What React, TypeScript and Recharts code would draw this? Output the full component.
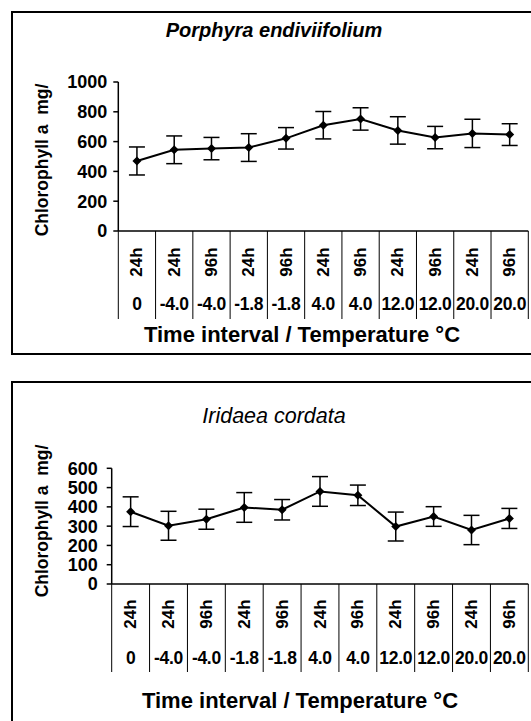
import { LineChart, Line, XAxis, YAxis, ErrorBar } from "recharts";

const timeLabels = ["24h", "24h", "96h", "24h", "96h", "24h", "96h", "24h", "96h", "24h", "96h"];
const tempLabels = ["0", "-4.0", "-4.0", "-1.8", "-1.8", "4.0", "4.0", "12.0", "12.0", "20.0", "20.0"];

const porphyraMean = [470, 545, 553, 560, 622, 710, 752, 675, 627, 655, 647];
const porphyraErr = [94, 93, 75, 93, 72, 92, 75, 92, 75, 95, 73];
const porphyraTicks = [0, 200, 400, 600, 800, 1000];

const iridaeaMean = [375, 302, 336, 397, 385, 480, 460, 298, 350, 280, 340];
const iridaeaErr = [77, 75, 52, 77, 53, 77, 53, 75, 51, 76, 52];
const iridaeaTicks = [0, 100, 200, 300, 400, 500, 600];

const FONT = '"Liberation Sans", Arial, sans-serif';

const build = (mean: number[], err: number[]) =>
  mean.map((v, i) => ({ key: `${timeLabels[i]} ${tempLabels[i]} ${i}`, value: v, err: err[i] }));

const Diamond = (props: any) => {
  const { cx, cy } = props;
  if (cx == null || cy == null) return null;
  const r = 4.5;
  return <polygon points={`${cx},${cy - r} ${cx + r},${cy} ${cx},${cy + r} ${cx - r},${cy}`} fill="#000" />;
};

function CatTick(props: any) {
  const { x, y, index, bw, timeDy, tempDy, sepLen } = props;
  const h = bw / 2;
  return (
    <g>
      {index === 0 && <line x1={x - h} x2={x - h} y1={y} y2={y + sepLen} stroke="#000" strokeWidth={1} />}
      <line x1={x + h} x2={x + h} y1={y} y2={y + sepLen} stroke="#000" strokeWidth={1} />
      <text
        x={x}
        y={y + timeDy}
        transform={`rotate(-90 ${x} ${y + timeDy})`}
        textAnchor="middle"
        dominantBaseline="central"
        fontFamily={FONT}
        fontWeight="bold"
        fontSize={17}
        fill="#000"
      >
        {timeLabels[index]}
      </text>
      <text
        x={x}
        y={y + tempDy}
        textAnchor="middle"
        dominantBaseline="central"
        fontFamily={FONT}
        fontWeight="bold"
        fontSize={17.5}
        letterSpacing={-0.3}
        fill="#000"
      >
        {tempLabels[index]}
      </text>
    </g>
  );
}

type PanelProps = {
  top: number;
  height: number;
  title: string;
  titleBold: boolean;
  titleSize: number;
  titleY: number;
  ylabelY: number;
  xtitleY: number;
  xtitleX: number;
  plotTop: number;
  plotBottom: number;
  plotLeft: number;
  mean: number[];
  err: number[];
  ticks: number[];
  tickMargin: number;
  timeDy: number;
  tempDy: number;
};

function Panel(p: PanelProps) {
  const plotRight = 528.3;
  const bw = (plotRight - p.plotLeft) / timeLabels.length;
  const data = build(p.mean, p.err);
  const max = p.ticks[p.ticks.length - 1];
  return (
    <>
      <div
        style={{
          position: "absolute",
          left: 274,
          top: p.titleY,
          transform: "translate(-50%, -50%)",
          fontFamily: FONT,
          fontStyle: "italic",
          fontWeight: p.titleBold ? "bold" : "normal",
          fontSize: p.titleSize,
          whiteSpace: "nowrap",
        }}
      >
        {p.title}
      </div>
      <div
        style={{
          position: "absolute",
          left: 42,
          top: p.ylabelY,
          transform: "translate(-50%, -50%) rotate(-90deg)",
          fontFamily: FONT,
          fontWeight: "bold",
          fontSize: 17.5,
          whiteSpace: "pre",
        }}
      >
        {"Chlorophyll a  mg/"}
      </div>
      <div
        style={{
          position: "absolute",
          left: p.xtitleX,
          top: p.xtitleY,
          transform: "translate(-50%, -50%)",
          fontFamily: FONT,
          fontWeight: "bold",
          fontSize: 22,
          whiteSpace: "nowrap",
        }}
      >
        Time interval / Temperature °C
      </div>
      <div style={{ position: "absolute", left: 0, top: p.top }}>
        <LineChart
          width={531}
          height={p.height}
          data={data}
          margin={{ top: p.plotTop - p.top, right: 531 - plotRight, bottom: 0, left: 0 }}
        >
          <XAxis
            dataKey="key"
            height={p.top + p.height - p.plotBottom}
            padding={{ left: bw / 2, right: bw / 2 }}
            axisLine={{ stroke: "#000", strokeWidth: 1.5 }}
            tickLine={false}
            tickSize={0}
            tickMargin={0}
            interval={0}
            tick={(t: any) => (
              <CatTick {...t} bw={bw} timeDy={p.timeDy} tempDy={p.tempDy} sepLen={88} />
            )}
          />
          <YAxis
            width={p.plotLeft}
            domain={[0, max]}
            ticks={p.ticks}
            interval={0}
            axisLine={{ stroke: "#000", strokeWidth: 1.5 }}
            tickLine={{ stroke: "#000", strokeWidth: 1.5 }}
            tickSize={5}
            tickMargin={p.tickMargin}
            tick={{ fill: "#000", fontFamily: FONT, fontWeight: "bold", fontSize: 18 }}
          />
          <Line
            type="linear"
            dataKey="value"
            stroke="#000"
            strokeWidth={2}
            dot={<Diamond />}
            activeDot={false}
            isAnimationActive={false}
          >
            <ErrorBar dataKey="err" width={8} stroke="#000" strokeWidth={1.5} isAnimationActive={false} />
          </Line>
        </LineChart>
      </div>
    </>
  );
}

export default function App() {
  return (
    <div
      style={{
        position: "absolute",
        left: 0,
        top: 0,
        width: 531,
        height: 721,
        overflow: "hidden",
        background: "#fff",
      }}
    >
      <div
        style={{
          position: "absolute",
          left: 11,
          top: 11,
          width: 560,
          height: 340,
          border: "2px solid #000",
        }}
      />
      <div
        style={{
          position: "absolute",
          left: 11,
          top: 381,
          width: 560,
          height: 400,
          border: "2px solid #000",
        }}
      />
      <Panel
        top={0}
        height={350}
        title="Porphyra endiviifolium"
        titleBold={true}
        titleSize={20}
        titleY={30}
        ylabelY={160}
        xtitleY={335}
        xtitleX={302}
        plotTop={82}
        plotBottom={231}
        plotLeft={118.3}
        mean={porphyraMean}
        err={porphyraErr}
        ticks={porphyraTicks}
        tickMargin={6}
        timeDy={31}
        tempDy={73}
      />
      <Panel
        top={380}
        height={330}
        title="Iridaea cordata"
        titleBold={false}
        titleSize={21.5}
        titleY={416}
        ylabelY={521}
        xtitleY={701}
        xtitleX={300}
        plotTop={468.3}
        plotBottom={584}
        plotLeft={111.7}
        mean={iridaeaMean}
        err={iridaeaErr}
        ticks={iridaeaTicks}
        tickMargin={9}
        timeDy={30}
        tempDy={74}
      />
    </div>
  );
}
